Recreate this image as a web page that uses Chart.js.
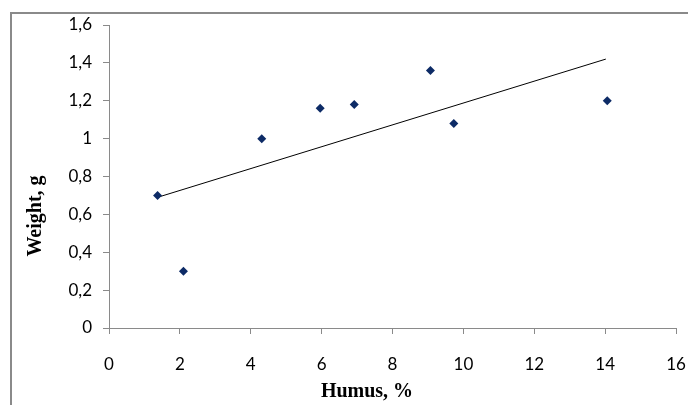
<!DOCTYPE html>
<html>
<head>
<meta charset="utf-8">
<script src="https://cdn.jsdelivr.net/npm/chart.js@4"></script>
<style>
  body { margin: 0; background: #fff; }
  #wrap { position: relative; width: 688px; height: 405px; overflow: hidden; }
  #frame { position: absolute; left: 10px; top: 12px; width: 700px; height: 420px;
           border-left: 2px solid #8a8a8a; border-top: 2px solid #8a8a8a; }
  canvas { position: absolute; left: 0; top: 0; }
</style>
</head>
<body>
<div id="wrap">
  <div id="frame"></div>
  <canvas id="chart" width="688" height="405"></canvas>
</div>
<script>
// humus content (%) and seedling weight (g)
const humus  = [1.37, 2.10, 4.31, 5.96, 6.92, 9.07, 9.73, 14.06];
const weight = [0.70, 0.30, 1.00, 1.16, 1.18, 1.36, 1.08, 1.20];

// linear trend line end points
const trendX = [1.37, 14.02];
const trendY = [0.69, 1.42];

const xTitle = 'Humus, %';
const yTitle = 'Weight, g';

const tickFont = { family: 'Lato', size: 17 };
const axisGray = '#8a8a8a';

const axisTitles = {
    id: 'axisTitles',
    afterDraw(chart) {
        const { ctx, chartArea } = chart;
        ctx.save();
        ctx.fillStyle = '#000';
        ctx.font = 'bold 20px "Liberation Serif"';
        ctx.textAlign = 'center';
        ctx.textBaseline = 'middle';
        // x title sits a bit left of the plot centre, as in the original
        ctx.fillText(xTitle, chartArea.left + 258, 392);
        ctx.translate(36, 216);
        ctx.rotate(-Math.PI / 2);
        ctx.fillText(yTitle, 0, 0);
        ctx.restore();
    }
};

new Chart(document.getElementById('chart'), {
    type: 'scatter',
    data: {
        datasets: [
            {
                label: 'data',
                data: humus.map((x, i) => ({ x: x, y: weight[i] })),
                pointStyle: 'rectRot',
                pointRadius: 4.5,
                backgroundColor: '#0d2b66',
                borderColor: '#0d2b66',
                borderWidth: 0
            },
            {
                label: 'trend',
                type: 'line',
                data: trendX.map((x, i) => ({ x: x, y: trendY[i] })),
                borderColor: '#000',
                borderWidth: 1,
                pointRadius: 0,
                fill: false
            }
        ]
    },
    options: {
        responsive: false,
        animation: false,
        layout: { padding: { left: 0, right: 0, top: 25, bottom: 0 } },
        plugins: { legend: { display: false }, tooltip: { enabled: false } },
        scales: {
            x: {
                type: 'linear',
                min: 0, max: 16,
                ticks: { stepSize: 2, color: '#000', font: tickFont, padding: 20, maxRotation: 0 },
                grid: { drawOnChartArea: false, drawTicks: true, tickLength: 6, color: axisGray },
                border: { color: axisGray, width: 1 },
                afterFit(scale) { scale.height = 77; scale.paddingRight = 12; }
            },
            y: {
                type: 'linear',
                min: 0, max: 1.6,
                ticks: {
                    stepSize: 0.2, color: '#000', font: tickFont, padding: 11,
                    callback: v => (Math.round(v * 10) / 10).toString().replace('.', ',')
                },
                grid: { drawOnChartArea: false, drawTicks: true, tickLength: 6, color: axisGray },
                border: { color: axisGray, width: 1 },
                afterFit(scale) { scale.width = 109; }
            }
        }
    },
    plugins: [axisTitles]
});
</script>
</body>
</html>
